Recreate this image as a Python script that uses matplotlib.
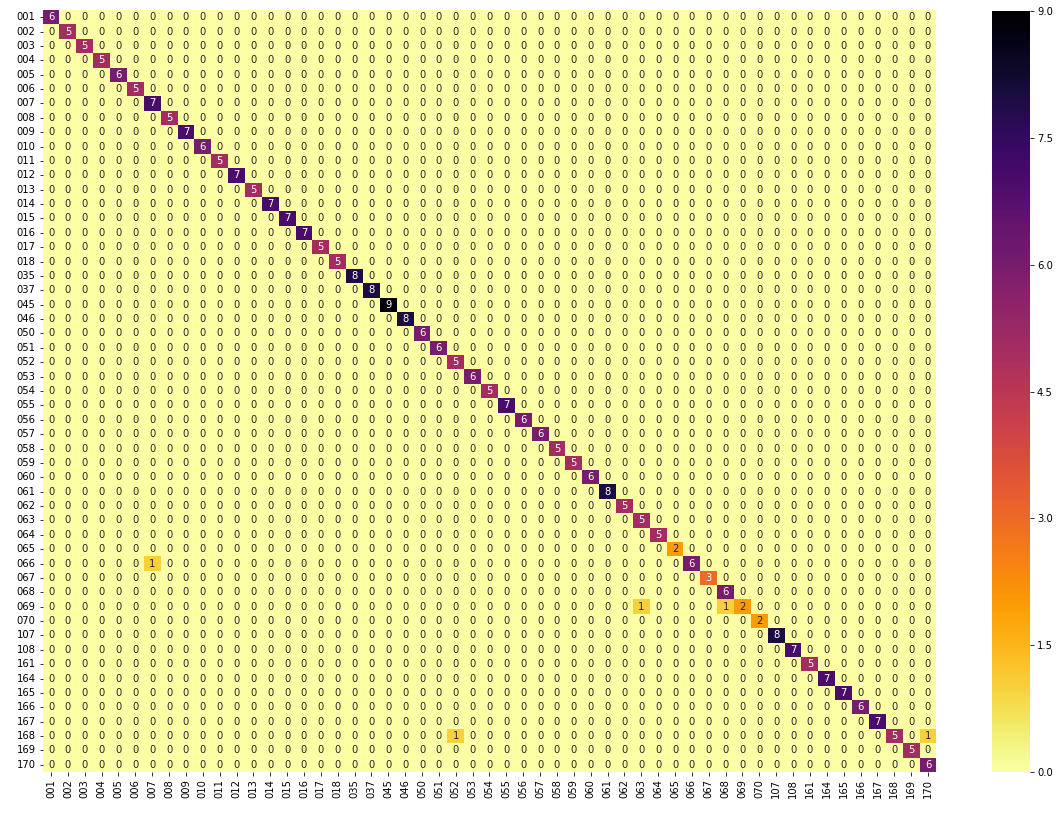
import numpy as np
import matplotlib
matplotlib.use("Agg")
import matplotlib.pyplot as plt
import seaborn as sns

labels = ["001", "002", "003", "004", "005", "006", "007", "008", "009", "010",
          "011", "012", "013", "014", "015", "016", "017", "018", "035", "037",
          "045", "046", "050", "051", "052", "053", "054", "055", "056", "057",
          "058", "059", "060", "061", "062", "063", "064", "065", "066", "067",
          "068", "069", "070", "107", "108", "161", "164", "165", "166", "167",
          "168", "169", "170"]

diagonal = [6, 5, 5, 5, 6, 5, 7, 5, 7, 6,
            5, 7, 5, 7, 7, 7, 5, 5, 8, 8,
            9, 8, 6, 6, 5, 6, 5, 7, 6, 6,
            5, 5, 6, 8, 5, 5, 5, 2, 6, 3,
            6, 2, 2, 8, 7, 5, 7, 7, 6, 7,
            5, 5, 6]

# off-diagonal entries: (true label, predicted label, count)
off_diag = [("066", "007", 1),
            ("069", "063", 1),
            ("069", "068", 1),
            ("168", "052", 1),
            ("168", "170", 1)]

n = len(labels)
cm = np.zeros((n, n), dtype=int)
for i, v in enumerate(diagonal):
    cm[i, i] = v
for r, c, v in off_diag:
    cm[labels.index(r), labels.index(c)] = v

W, H = 1061, 824
fig = plt.figure(figsize=(W / 72, H / 72), dpi=72)
ax = fig.add_axes([42.6 / W, (H - 772) / H, (936.4 - 42.6) / W, (772 - 10) / H])
cax = fig.add_axes([992 / W, (H - 772) / H, 38 / W, (772 - 11) / H])

sns.heatmap(cm, annot=True, fmt="d", cmap="inferno_r", vmin=0, vmax=9,
            xticklabels=labels, yticklabels=labels, ax=ax, cbar_ax=cax,
            annot_kws={"fontsize": 10})
ax.tick_params(axis="x", labelrotation=90, labelsize=10)
ax.tick_params(axis="y", labelrotation=0, labelsize=10)
cax.set_yticks([0.0, 1.5, 3.0, 4.5, 6.0, 7.5, 9.0])
cax.set_yticklabels(["0.0", "1.5", "3.0", "4.5", "6.0", "7.5", "9.0"])
cax.tick_params(labelsize=10)

fig.savefig("out.png", dpi=72)
